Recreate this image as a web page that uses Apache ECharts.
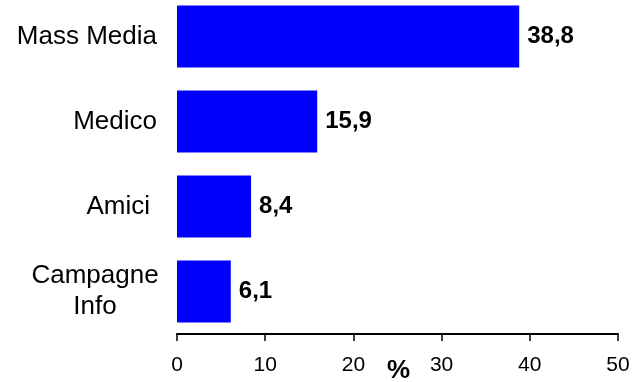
<!DOCTYPE html>
<html>
<head>
<meta charset="utf-8">
<script src="https://cdn.jsdelivr.net/npm/echarts@6/dist/echarts.min.js"></script>
<style>html,body{margin:0;padding:0;background:#fff}#c{width:642px;height:382px}</style>
</head>
<body>
<div id="c"></div>
<script>
const categories = ['Mass Media', 'Medico', 'Amici', 'Campagne Info'];
const values = [38.8, 15.9, 8.4, 6.1];
const xTicks = [0, 10, 20, 30, 40, 50];
const axisName = '%';

const chart = echarts.init(document.getElementById('c'));
chart.setOption({
  animation: false,
  backgroundColor: '#ffffff',
  grid: { left: 177, right: 24, top: -6, bottom: 48, containLabel: false, outerBoundsMode: 'none' },
  graphic: [{
    type: 'text', left: 387, top: 358,
    style: { text: axisName, fontFamily: 'Liberation Sans', fontSize: 26, fontWeight: 'bold', fill: '#000' }
  }],
  xAxis: {
    type: 'value',
    min: xTicks[0], max: xTicks[xTicks.length - 1], interval: 10,
    axisLine: { show: true, lineStyle: { color: '#000', width: 2 } },
    axisTick: { show: true, length: 7, lineStyle: { color: '#000', width: 1.5 } },
    splitLine: { show: false },
    axisLabel: { fontFamily: 'Liberation Sans', fontSize: 21, color: '#000', margin: 21 }
  },
  yAxis: {
    type: 'category', data: categories, inverse: true,
    axisLine: { show: false }, axisTick: { show: false },
    axisLabel: {
      fontFamily: 'Liberation Sans', fontSize: 26, color: '#000', margin: 20,
      formatter: function (v) {
        if (v === 'Campagne Info') return '{c|Campagne}\n{c|Info}';
        if (v === 'Amici') return '{a|' + v + '}';
        return v;
      },
      rich: {
        c: { fontFamily: 'Liberation Sans', fontSize: 26, color: '#000', width: 124, align: 'center', lineHeight: 31 },
        a: { fontFamily: 'Liberation Sans', fontSize: 26, color: '#000', padding: [0, 7, 0, 0] }
      }
    }
  },
  series: [{
    type: 'bar', data: values, barCategoryGap: '27%',
    itemStyle: { color: '#0000FF' },
    label: {
      show: true, position: 'right', distance: 8,
      fontFamily: 'Liberation Sans', fontSize: 24, fontWeight: 'bold', color: '#000',
      formatter: function (p) { return String(p.value).replace('.', ','); }
    }
  }]
});
</script>
</body>
</html>
